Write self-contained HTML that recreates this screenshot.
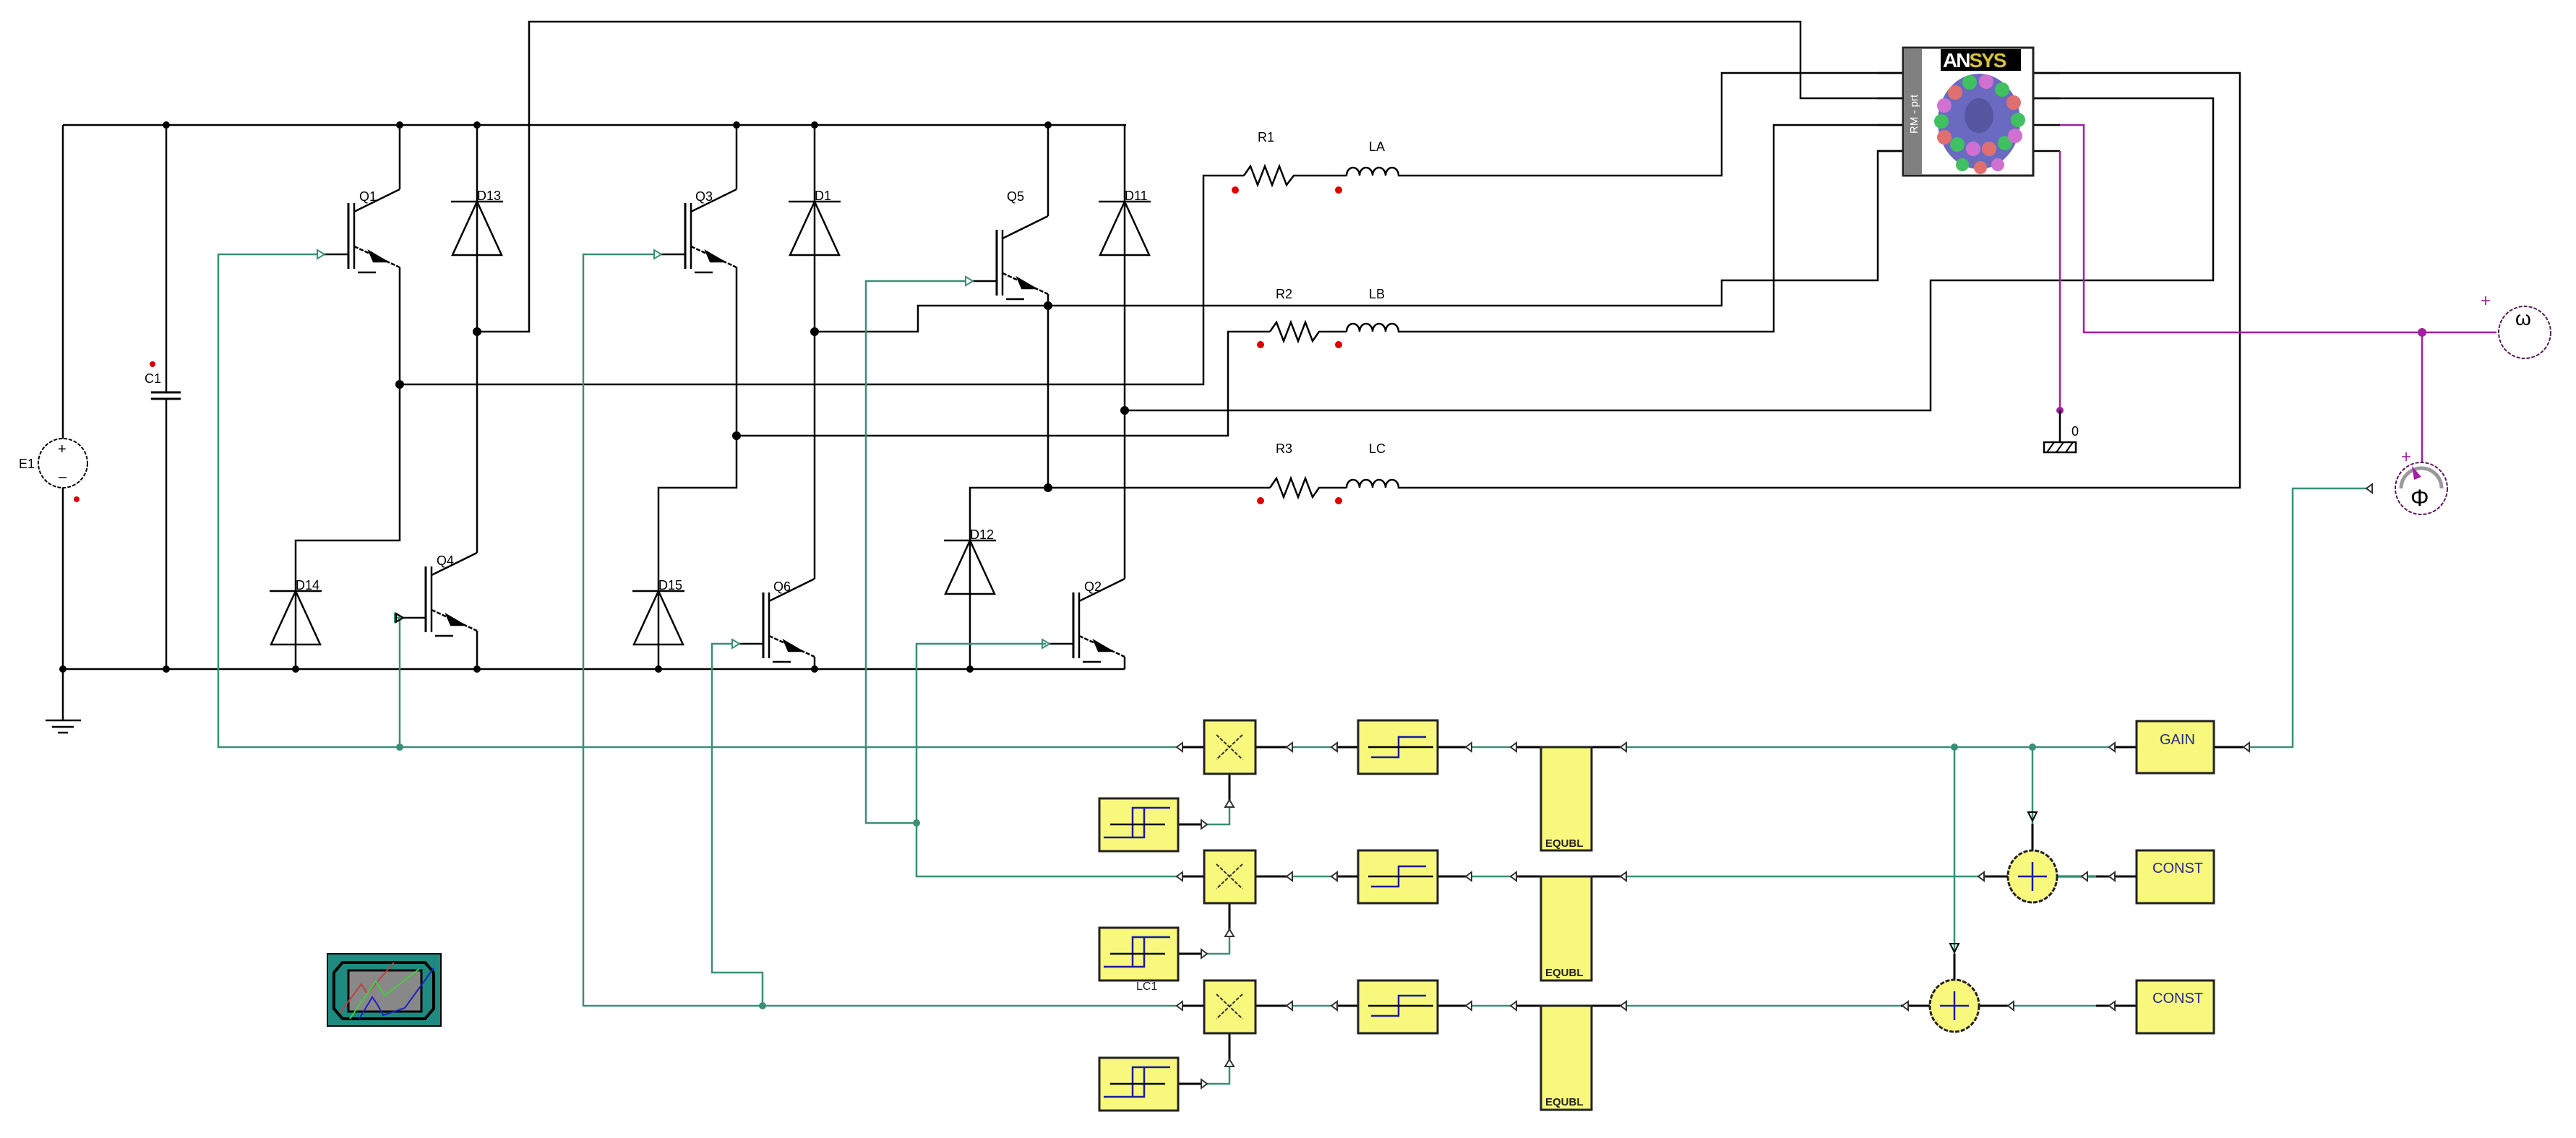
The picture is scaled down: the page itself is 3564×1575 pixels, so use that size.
<!DOCTYPE html>
<html><head><meta charset="utf-8"><style>
html,body{margin:0;padding:0;background:#fff;}
svg{display:block;}
text{font-family:"Liberation Sans",sans-serif;}
</style></head><body>
<svg width="3564" height="1575" viewBox="0 0 3564 1575" xmlns="http://www.w3.org/2000/svg">
<defs>
<g id="igbt" fill="none" stroke="#000" stroke-width="2.5">
  <line x1="0" y1="-90" x2="-63" y2="-59"/>
  <line x1="-71" y1="-71" x2="-71" y2="20" stroke-width="3"/>
  <line x1="-63" y1="-71" x2="-63" y2="20" stroke-width="2.5"/>
  <line x1="-63" y1="-11" x2="0" y2="18" stroke-dasharray="6,2"/>
  <polygon points="-18,10 -42,-4 -36,10" fill="#000"/>
  <line x1="-58" y1="25" x2="-33" y2="25"/>
  <line x1="-105" y1="0" x2="-71" y2="0"/>
  <polygon points="-114,-6 -104,0 -114,6" fill="#fff" stroke="#3a8f75" stroke-width="2"/>
</g>
<g id="diode" fill="none" stroke="#000" stroke-width="2.5">
  <line x1="-36" y1="0" x2="36" y2="0"/>
  <polygon points="0,0 -34,74 34,74"/>
</g>
<g id="blk">
  <rect x="0" y="0" width="10" height="10" fill="#F8F87C" stroke="#222" stroke-width="3"/>
</g>
</defs>

<!-- ===== black power wiring ===== -->
<g fill="none" stroke="#000" stroke-width="2.5">
  <!-- top wire -->
  <polyline points="660,459 732,459 732,30 2491,30 2491,136 2633,136"/>
  <!-- buses -->
  <line x1="87" y1="173" x2="1558" y2="173"/>
  <line x1="87" y1="926" x2="1556" y2="926"/>
  <!-- E1 -->
  <line x1="87" y1="173" x2="87" y2="607"/>
  <line x1="87" y1="675" x2="87" y2="997"/>
  <line x1="63" y1="997" x2="112" y2="997"/>
  <line x1="72" y1="1006" x2="102" y2="1006"/>
  <line x1="80" y1="1014" x2="94" y2="1014"/>
  <!-- C1 -->
  <line x1="230" y1="173" x2="230" y2="543"/>
  <line x1="230" y1="552" x2="230" y2="926"/>
  <line x1="209" y1="543" x2="250" y2="543" stroke-width="3"/>
  <line x1="209" y1="552" x2="250" y2="552" stroke-width="3"/>
  <!-- Q1 -->
  <line x1="553" y1="173" x2="553" y2="262"/>
  <polyline points="553,370 553,748 409,748 409,926"/>
  <!-- D13/Q4 column -->
  <line x1="660" y1="173" x2="660" y2="765"/>
  <line x1="660" y1="873" x2="660" y2="926"/>
  <!-- Q3 -->
  <line x1="1019" y1="173" x2="1019" y2="262"/>
  <polyline points="1019,370 1019,675 911,675 911,926"/>
  <!-- D1/Q6 -->
  <line x1="1127" y1="173" x2="1127" y2="801"/>
  <line x1="1127" y1="909" x2="1127" y2="926"/>
  <polyline points="1127,459 1270,459 1270,423 2382,423 2382,388 2598,388 2598,209 2633,209"/>
  <!-- Q5 -->
  <line x1="1450" y1="173" x2="1450" y2="299"/>
  <polyline points="1450,407 1450,675 1342,675 1342,926"/>
  <!-- D11/Q2 -->
  <line x1="1556" y1="173" x2="1556" y2="801"/>
  <line x1="1556" y1="909" x2="1556" y2="926"/>
  <!-- phase lines -->
  <polyline points="553,532 1665,532 1665,243 1721,243"/>
  <polyline points="1019,603 1699,603 1699,459 1757,459"/>
  <polyline points="1450,675 1757,675"/>
  <polyline points="1556,568 2671,568 2671,388 3062,388 3062,136 2812,136"/>
  <!-- R/L rows -->
  <polyline points="1721,243 1730,230 1740,256 1750,230 1760,256 1770,230 1780,256 1790,243 1863,243"/>
  <polyline points="1757,459 1766,446 1776,472 1786,446 1796,472 1806,446 1816,472 1825,459 1863,459"/>
  <polyline points="1757,675 1766,662 1776,688 1786,662 1796,688 1806,662 1816,688 1825,675 1863,675"/>
  <path d="M1863,243 a9,11 0 0 1 18,0 a9,11 0 0 1 18,0 a9,11 0 0 1 18,0 a9,11 0 0 1 18,0 L1953,243"/>
  <path d="M1863,459 a9,11 0 0 1 18,0 a9,11 0 0 1 18,0 a9,11 0 0 1 18,0 a9,11 0 0 1 18,0 L1953,459"/>
  <path d="M1863,675 a9,11 0 0 1 18,0 a9,11 0 0 1 18,0 a9,11 0 0 1 18,0 a9,11 0 0 1 18,0 L1953,675"/>
  <polyline points="1953,243 2382,243 2382,101 2633,101"/>
  <polyline points="1953,459 2454,459 2454,173 2633,173"/>
  <polyline points="1953,675 3099,675 3099,101 2812,101"/>
</g>
<!-- dots -->
<g fill="#000">
  <circle cx="230" cy="173" r="5"/><circle cx="553" cy="173" r="5"/><circle cx="660" cy="173" r="5"/>
  <circle cx="1019" cy="173" r="5"/><circle cx="1127" cy="173" r="5"/><circle cx="1450" cy="173" r="5"/>
  <circle cx="87" cy="926" r="5"/><circle cx="230" cy="926" r="5"/><circle cx="409" cy="926" r="5"/>
  <circle cx="660" cy="926" r="5"/><circle cx="911" cy="926" r="5"/><circle cx="1127" cy="926" r="5"/><circle cx="1342" cy="926" r="5"/>
  <circle cx="553" cy="532" r="6"/><circle cx="660" cy="459" r="6"/><circle cx="1127" cy="459" r="6"/>
  <circle cx="1019" cy="603" r="6"/><circle cx="1450" cy="423" r="6"/><circle cx="1450" cy="675" r="6"/><circle cx="1556" cy="568" r="6"/>
</g>
<!-- E1 -->
<circle cx="87" cy="641" r="34" fill="none" stroke="#000" stroke-width="2" stroke-dasharray="5,2"/>
<text x="80" y="628" font-size="20">+</text><text x="81" y="666" font-size="20">–</text>
<text x="26" y="648" font-size="18">E1</text>
<circle cx="106" cy="691" r="4" fill="#d00"/>
<circle cx="211" cy="504" r="4" fill="#d00"/>
<text x="200" y="530" font-size="18">C1</text>

<!-- IGBTs -->
<use href="#igbt" x="553" y="352"/><use href="#igbt" x="1019" y="352"/><use href="#igbt" x="1450" y="389"/>
<use href="#igbt" x="660" y="855"/><use href="#igbt" x="1127" y="891"/><use href="#igbt" x="1556" y="891"/>
<g font-size="18">
<text x="497" y="278">Q1</text><text x="962" y="278">Q3</text><text x="1393" y="278">Q5</text>
<text x="604" y="782">Q4</text><text x="1070" y="818">Q6</text><text x="1500" y="818">Q2</text>
</g>
<!-- diodes -->
<use href="#diode" x="660" y="279"/><use href="#diode" x="1127" y="279"/><use href="#diode" x="1556" y="279"/>
<use href="#diode" x="409" y="818"/><use href="#diode" x="911" y="818"/><use href="#diode" x="1342" y="748"/>
<g font-size="18">
<text x="660" y="277">D13</text><text x="1127" y="277">D1</text><text x="1556" y="277">D11</text>
<text x="409" y="816">D14</text><text x="911" y="816">D15</text><text x="1342" y="746">D12</text>
</g>
<!-- R L labels -->
<g font-size="18">
<text x="1740" y="196">R1</text><text x="1894" y="209">LA</text>
<text x="1765" y="413">R2</text><text x="1894" y="413">LB</text>
<text x="1765" y="627">R3</text><text x="1894" y="627">LC</text>
</g>
<g fill="#d00">
<circle cx="1709" cy="263" r="5"/><circle cx="1852" cy="263" r="5"/>
<circle cx="1744" cy="477" r="5"/><circle cx="1852" cy="477" r="5"/>
<circle cx="1744" cy="693" r="5"/><circle cx="1852" cy="693" r="5"/>
</g>

<!-- ANSYS block -->
<g stroke="#000" stroke-width="2.5">
<line x1="2598" y1="101" x2="2633" y2="101"/><line x1="2598" y1="136" x2="2633" y2="136"/>
<line x1="2598" y1="173" x2="2633" y2="173"/><line x1="2598" y1="209" x2="2633" y2="209"/>
<line x1="2812" y1="101" x2="2850" y2="101"/><line x1="2812" y1="136" x2="2850" y2="136"/>
<line x1="2812" y1="173" x2="2850" y2="173"/><line x1="2812" y1="209" x2="2850" y2="209"/>
</g>
<rect x="2633" y="66" width="180" height="177" fill="#fff" stroke="#222" stroke-width="3"/>
<rect x="2634" y="67" width="25" height="175" fill="#808080"/>
<text transform="translate(2653,185) rotate(-90)" font-size="15" fill="#fff">RM - prt</text>
<rect x="2685" y="68" width="111" height="30" fill="#000"/>
<text x="2688" y="93" font-size="28" font-weight="bold" fill="#fff" letter-spacing="-2">AN<tspan fill="#d8c040">SYS</tspan></text>
<ellipse cx="2738" cy="168" rx="57" ry="66" fill="#6a6ac0"/>
<g>
<circle cx="2705" cy="128" r="10" fill="#e07070"/><circle cx="2725" cy="114" r="10" fill="#40c060"/>
<circle cx="2748" cy="113" r="10" fill="#d070d0"/><circle cx="2770" cy="124" r="10" fill="#40c060"/>
<circle cx="2786" cy="142" r="10" fill="#e07070"/><circle cx="2792" cy="166" r="10" fill="#40c060"/>
<circle cx="2690" cy="146" r="10" fill="#d070d0"/><circle cx="2686" cy="168" r="10" fill="#40c060"/>
<circle cx="2690" cy="190" r="10" fill="#e07070"/><circle cx="2708" cy="200" r="10" fill="#40c060"/>
<circle cx="2730" cy="206" r="10" fill="#d070d0"/><circle cx="2752" cy="206" r="10" fill="#e07070"/>
<circle cx="2774" cy="198" r="10" fill="#40c060"/><circle cx="2788" cy="188" r="10" fill="#d070d0"/>
<circle cx="2715" cy="228" r="9" fill="#40c060"/><circle cx="2740" cy="232" r="9" fill="#e07070"/><circle cx="2764" cy="228" r="9" fill="#d070d0"/>
<ellipse cx="2738" cy="160" rx="20" ry="24" fill="#5555a0"/>
</g>

<!-- purple mechanical -->
<g fill="none" stroke="#a020a0" stroke-width="2.5">
<polyline points="2850,173 2883,173 2883,460 3454,460"/>
<polyline points="2850,209 2850,568"/>
<line x1="3351" y1="460" x2="3351" y2="640"/>
</g>
<circle cx="3351" cy="460" r="6" fill="#a020a0"/>
<circle cx="2850" cy="568" r="5" fill="#a020a0"/>
<line x1="2850" y1="568" x2="2850" y2="612" stroke="#000" stroke-width="2.5"/>
<rect x="2828" y="612" width="44" height="14" fill="#fff" stroke="#000" stroke-width="2.5"/>
<g stroke="#000" stroke-width="2"><line x1="2832" y1="626" x2="2842" y2="612"/><line x1="2845" y1="626" x2="2855" y2="612"/><line x1="2858" y1="626" x2="2868" y2="612"/></g>
<text x="2866" y="603" font-size="18">0</text>
<circle cx="3493" cy="460" r="36" fill="none" stroke="#5a1a5a" stroke-width="2" stroke-dasharray="5,2"/>
<text x="3480" y="450" font-size="28" font-family="Liberation Serif">ω</text>
<text x="3432" y="424" font-size="24" fill="#a020a0">+</text>
<circle cx="3350" cy="676" r="36" fill="none" stroke="#5a1a5a" stroke-width="2" stroke-dasharray="5,2"/>
<path d="M3322,676 A28,28 0 0 1 3378,676" fill="none" stroke="#999" stroke-width="5"/>
<polygon points="3337,645 3350,660 3340,664" fill="#a020a0"/>
<text x="3335" y="700" font-size="32" font-family="Liberation Serif">Φ</text>
<text x="3322" y="640" font-size="24" fill="#a020a0">+</text>

<!-- ===== green control ===== -->
<g fill="none" stroke="#3a8f75" stroke-width="2.5">
  <polyline points="439,352 302,352 302,1034 2956,1034"/>
  <polyline points="548,855 553,855 553,1034"/>
  <polyline points="3063,1034 3172,1034 3172,676 3280,676"/>
  <polyline points="1337,389 1198,389 1198,1139 1268,1139"/>
  <polyline points="1447,891 1268,891 1268,1213 2956,1213"/>
  <polyline points="905,352 807,352 807,1392 2956,1392"/>
  <polyline points="1013,891 985,891 985,1346 1055,1346 1055,1392"/>
  <line x1="2812" y1="1034" x2="2812" y2="1177"/>
  <line x1="2704" y1="1034" x2="2704" y2="1357"/>
  <polyline points="1630,1141 1701,1141 1701,1071"/>
  <polyline points="1630,1320 1701,1320 1701,1250"/>
  <polyline points="1630,1500 1701,1500 1701,1430"/>
</g>
<g fill="#3a8f75">
<circle cx="553" cy="1034" r="5"/><circle cx="1268" cy="1139" r="5"/><circle cx="1055" cy="1392" r="5"/>
<circle cx="2812" cy="1034" r="5"/><circle cx="2704" cy="1034" r="5"/>
</g>
<g fill="none" stroke="#000" stroke-width="2"><polygon points="548,849 558,855 548,861"/><polygon points="2806,1124 2818,1124 2812,1136"/><polygon points="2698,1306 2710,1306 2704,1318"/></g>

<!-- rows blocks -->
<g stroke="#000" stroke-width="3" fill="none">
  <line x1="1628" y1="1034" x2="1780" y2="1034"/><line x1="1842" y1="1034" x2="2028" y2="1034"/><line x1="2090" y1="1034" x2="2242" y2="1034"/>
  <line x1="1628" y1="1213" x2="1780" y2="1213"/><line x1="1842" y1="1213" x2="2028" y2="1213"/><line x1="2090" y1="1213" x2="2242" y2="1213"/>
  <line x1="1628" y1="1392" x2="1780" y2="1392"/><line x1="1842" y1="1392" x2="2028" y2="1392"/><line x1="2090" y1="1392" x2="2242" y2="1392"/>
  <line x1="2918" y1="1034" x2="2956" y2="1034"/><line x1="3063" y1="1034" x2="3104" y2="1034"/>
  <line x1="2737" y1="1213" x2="2956" y2="1213" stroke="#000"/>
  <line x1="2630" y1="1392" x2="2778" y2="1392"/><line x1="2900" y1="1392" x2="2956" y2="1392"/>
  <line x1="1701" y1="1071" x2="1701" y2="1110"/><line x1="1701" y1="1250" x2="1701" y2="1289"/><line x1="1701" y1="1430" x2="1701" y2="1469"/>
  <line x1="1630" y1="1141" x2="1670" y2="1141"/><line x1="1630" y1="1320" x2="1670" y2="1320"/><line x1="1630" y1="1500" x2="1670" y2="1500"/>
  <line x1="2812" y1="1140" x2="2812" y2="1177"/><line x1="2704" y1="1320" x2="2704" y2="1357"/>
</g>
<line x1="2780" y1="1213" x2="2900" y2="1213" stroke="#3a8f75" stroke-width="2.5"/>
<g fill="#F8F87C" stroke="#222" stroke-width="3">
  <rect x="1666" y="997" width="71" height="74"/><rect x="1666" y="1177" width="71" height="73"/><rect x="1666" y="1357" width="71" height="73"/>
  <rect x="1879" y="997" width="110" height="74"/><rect x="1879" y="1177" width="110" height="73"/><rect x="1879" y="1357" width="110" height="73"/>
  <rect x="2132" y="1034" width="70" height="143"/><rect x="2132" y="1213" width="70" height="144"/><rect x="2132" y="1392" width="70" height="144"/>
  <rect x="1521" y="1105" width="109" height="73"/><rect x="1521" y="1284" width="109" height="73"/><rect x="1521" y="1464" width="109" height="73"/>
  <rect x="2956" y="998" width="107" height="72"/><rect x="2956" y="1177" width="107" height="73"/><rect x="2956" y="1357" width="107" height="73"/>
  <ellipse cx="2812" cy="1213" rx="34" ry="36" stroke-dasharray="6,2"/><ellipse cx="2704" cy="1392" rx="34" ry="36" stroke-dasharray="6,2"/>
</g>
<g stroke="#1a1aa0" stroke-width="2.5" fill="none">
  <line x1="2812" y1="1193" x2="2812" y2="1233"/><line x1="2792" y1="1213" x2="2832" y2="1213"/>
  <line x1="2704" y1="1372" x2="2704" y2="1412"/><line x1="2684" y1="1392" x2="2724" y2="1392"/>
</g>
<!-- multiplier X, comparator step, hysteresis -->
<g stroke="#333" stroke-width="2" fill="none" stroke-dasharray="5,2">
  <path d="M1683,1017 L1719,1051 M1719,1017 L1683,1051"/>
  <path d="M1683,1196 L1719,1230 M1719,1196 L1683,1230"/>
  <path d="M1683,1376 L1719,1410 M1719,1376 L1683,1410"/>
</g>
<g id="steps" stroke-width="2.5" fill="none">
  <path d="M1897,1048 L1935,1048 L1935,1020 L1973,1020" stroke="#1a1aa0"/>
  <path d="M1893,1034 L1983,1034" stroke="#000"/>
  <path d="M1897,1227 L1935,1227 L1935,1199 L1973,1199" stroke="#1a1aa0"/>
  <path d="M1893,1213 L1983,1213" stroke="#000"/>
  <path d="M1897,1406 L1935,1406 L1935,1378 L1973,1378" stroke="#1a1aa0"/>
  <path d="M1893,1392 L1983,1392" stroke="#000"/>
  <path d="M1527,1159 L1583,1159 L1583,1118 L1619,1118 M1567,1159 L1567,1118 L1583,1118" stroke="#1a1aa0"/>
  <path d="M1536,1141 L1612,1141" stroke="#000"/>
  <path d="M1527,1338 L1583,1338 L1583,1297 L1619,1297 M1567,1338 L1567,1297 L1583,1297" stroke="#1a1aa0"/>
  <path d="M1536,1320 L1612,1320" stroke="#000"/>
  <path d="M1527,1518 L1583,1518 L1583,1477 L1619,1477 M1567,1518 L1567,1477 L1583,1477" stroke="#1a1aa0"/>
  <path d="M1536,1500 L1612,1500" stroke="#000"/>
</g>
<g font-size="18" fill="#222">
<text x="2138" y="1172" font-size="15" font-weight="bold">EQUBL</text>
<text x="2138" y="1351" font-size="15" font-weight="bold">EQUBL</text>
<text x="2138" y="1530" font-size="15" font-weight="bold">EQUBL</text>
<text x="2988" y="1030" font-size="20" fill="#2a2a90">GAIN</text>
<text x="2978" y="1208" font-size="20" fill="#2a2a90">CONST</text>
<text x="2978" y="1388" font-size="20" fill="#2a2a90">CONST</text>
<text x="1572" y="1370" font-size="16">LC1</text>
</g>
<!-- small arrowheads -->
<g fill="#fff" stroke="#333" stroke-width="2">
  <polygon points="1636,1028 1628,1034 1636,1040"/><polygon points="1788,1028 1780,1034 1788,1040"/><polygon points="1850,1028 1842,1034 1850,1040"/>
  <polygon points="2036,1028 2028,1034 2036,1040"/><polygon points="2098,1028 2090,1034 2098,1040"/><polygon points="2250,1028 2242,1034 2250,1040"/>
  <polygon points="2926,1028 2918,1034 2926,1040"/><polygon points="3112,1028 3104,1034 3112,1040"/>
  <polygon points="1636,1207 1628,1213 1636,1219"/><polygon points="1788,1207 1780,1213 1788,1219"/><polygon points="1850,1207 1842,1213 1850,1219"/>
  <polygon points="2036,1207 2028,1213 2036,1219"/><polygon points="2098,1207 2090,1213 2098,1219"/><polygon points="2250,1207 2242,1213 2250,1219"/>
  <polygon points="2745,1207 2737,1213 2745,1219"/><polygon points="2888,1207 2880,1213 2888,1219"/><polygon points="2926,1207 2918,1213 2926,1219"/>
  <polygon points="1636,1386 1628,1392 1636,1398"/><polygon points="1788,1386 1780,1392 1788,1398"/><polygon points="1850,1386 1842,1392 1850,1398"/>
  <polygon points="2036,1386 2028,1392 2036,1398"/><polygon points="2098,1386 2090,1392 2098,1398"/><polygon points="2250,1386 2242,1392 2250,1398"/>
  <polygon points="2640,1386 2632,1392 2640,1398"/><polygon points="2786,1386 2778,1392 2786,1398"/><polygon points="2926,1386 2918,1392 2926,1398"/>
  <polygon points="1695,1117 1701,1107 1707,1117"/><polygon points="1695,1296 1701,1286 1707,1296"/><polygon points="1695,1476 1701,1466 1707,1476"/>
  <polygon points="1662,1135 1670,1141 1662,1147"/><polygon points="1662,1314 1670,1320 1662,1326"/><polygon points="1662,1494 1670,1500 1662,1506"/>
  <polygon points="3282,670 3274,676 3282,682"/>
</g>

<!-- scope icon -->
<rect x="453" y="1320" width="157" height="100" fill="#1f8a80" stroke="#000" stroke-width="2"/>
<path d="M474,1332 L588,1332 L600,1346 L600,1396 L588,1410 L474,1410 L462,1396 L462,1346 Z" fill="none" stroke="#000" stroke-width="4"/>
<rect x="482" y="1343" width="101" height="57" fill="#888" stroke="#000" stroke-width="3"/>
<polyline points="470,1402 500,1362 508,1375 545,1332" fill="none" stroke="#c04040" stroke-width="2"/>
<polyline points="484,1410 520,1358 532,1378 580,1341" fill="none" stroke="#40d040" stroke-width="2"/>
<polyline points="497,1410 515,1380 522,1390 530,1405 560,1395 600,1340" fill="none" stroke="#2020c0" stroke-width="2"/>
</svg>
</body></html>
